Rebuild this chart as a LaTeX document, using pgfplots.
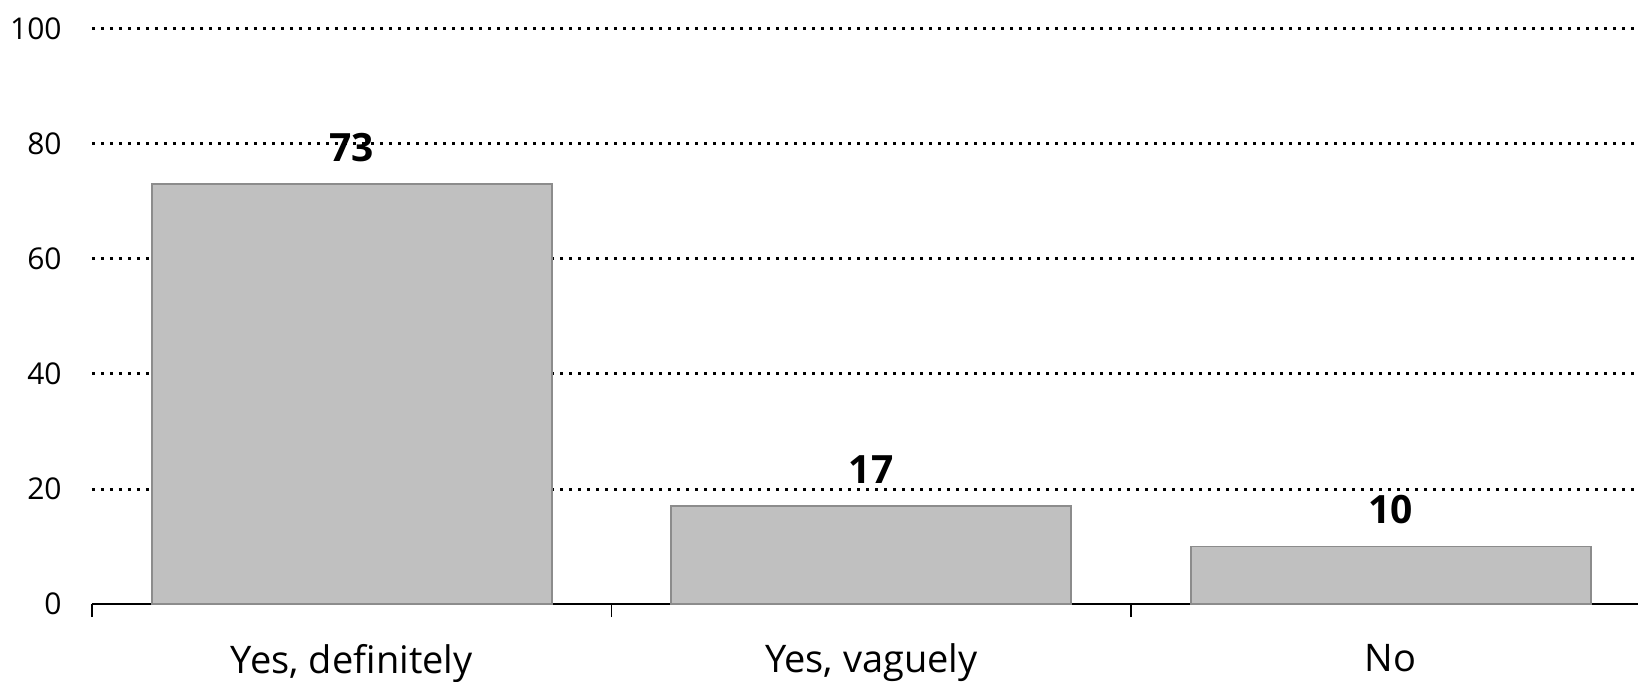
\documentclass[border=0pt]{standalone}
\usepackage{fontspec}
\setmainfont{Open Sans}
\usepackage{pgfplots}
\pgfplotsset{compat=1.18}
\definecolor{barfill}{HTML}{C0C0C0}
\definecolor{barline}{HTML}{8C8C8C}
\begin{document}
\begin{tikzpicture}
\useasboundingbox (-46bp,-39bp) rectangle (773bp,302bp);
\begin{axis}[
  scale only axis,
  width=773bp, height=287.5bp,
  at={(0,0)}, anchor=south west,
  xmin=-0.5, xmax=2.476,
  ymin=0, ymax=100,
  ytick={20,40,60,80,100},
  extra y ticks={0},
  extra y tick style={grid=none},
  xtick={0,1,2},
  xticklabels={{Yes, definitely},{Yes, vaguely},{No}},
  minor xtick={-0.5,0.5,1.5,2.5},
  major tick length=0pt,
  minor tick length=6.5bp,
  tick align=outside,
  axis lines*=left,
  y axis line style={draw=none},
  x axis line style={line width=1.2bp, black},
  ytick style={draw=none},
  minor tick style={line width=0.9bp, black},
  ymajorgrids=true,
  major grid style={black, line width=1.5bp, dash pattern=on 1.4bp off 3.1bp},
  /pgf/number format/assume math mode=true,
  yticklabel style={font=\fontsize{15bp}{18bp}\selectfont, inner sep=0pt, xshift=-15bp, anchor=east},
  xticklabel style={font=\fontsize{19bp}{23bp}\selectfont, inner sep=0pt, anchor=north, yshift=-19.8bp},
  clip=false,
]
\addplot[ybar, bar width=0.77, fill=barfill, draw=barline, line width=0.8bp,
  nodes near coords,
  nodes near coords style={font=\fontsize{19.5bp}{23bp}\selectfont\bfseries, inner sep=0pt, anchor=south, yshift=11bp},
] coordinates {(0,73) (1,17) (2,10)};
\end{axis}
\end{tikzpicture}
\end{document}
